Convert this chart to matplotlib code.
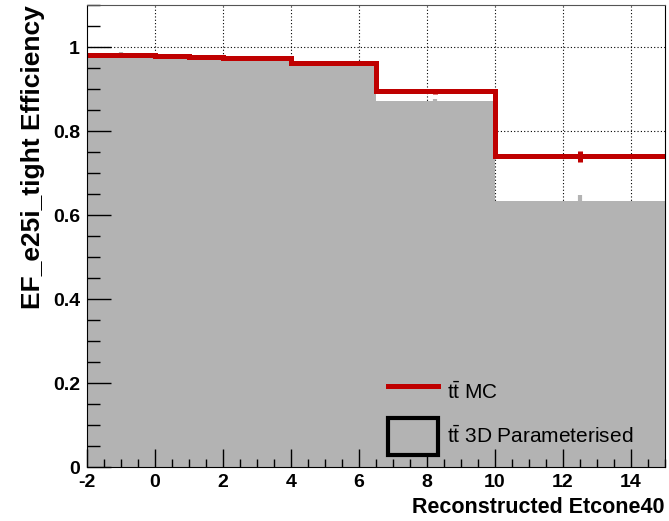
import matplotlib.pyplot as plt
import numpy as np
from matplotlib.lines import Line2D
from matplotlib.patches import Patch
from matplotlib.ticker import MultipleLocator

plt.rcParams['font.family'] = ['Liberation Sans', 'DejaVu Sans']
plt.rcParams['mathtext.fontset'] = 'custom'
plt.rcParams['mathtext.rm'] = 'Liberation Sans'
plt.rcParams['mathtext.it'] = 'Liberation Sans'
plt.rcParams['axes.unicode_minus'] = False

# bin edges in Etcone40
edges = [-2, 0, 1, 2, 4, 6.5, 10, 15]
# ttbar MC efficiency
mc_eff = [0.983, 0.979, 0.977, 0.974, 0.963, 0.896, 0.741]
mc_err = [0.004, 0.004, 0.004, 0.003, 0.003, 0.006, 0.013]
# 3D parameterised efficiency
par_eff = [0.987, 0.983, 0.980, 0.976, 0.966, 0.872, 0.635]
par_err = [0.002, 0.002, 0.002, 0.002, 0.002, 0.006, 0.014]
xgrid = [0, 2, 4, 6, 8, 10, 12, 14]
ygrid = [0.2, 0.4, 0.6, 0.8, 1.0]

red = '#bf0000'
grey = '#b3b3b3'

fig = plt.figure(figsize=(6.69, 5.21), dpi=100)
ax = fig.add_axes([0.130, 0.1036, 0.864, 0.886])

centres = 0.5 * (np.array(edges[:-1]) + np.array(edges[1:]))

#dotted grid, sits under the histogram fill
for gx in xgrid:
    ax.axvline(gx, color='black', linestyle=(0, (1, 2)), linewidth=0.8, zorder=0.5)
for gy in ygrid:
    ax.axhline(gy, color='black', linestyle=(0, (1, 2)), linewidth=0.8, zorder=0.5)

ax.stairs(par_eff, edges, fill=True, color=grey, zorder=1)
ax.errorbar(centres, par_eff, yerr=par_err, fmt='none', ecolor=grey, elinewidth=3, zorder=1)

ax.stairs(mc_eff, edges, baseline=None, color=red, linewidth=3.6, zorder=3)
ax.errorbar(centres, mc_eff, yerr=mc_err, fmt='none', ecolor=red, elinewidth=3.6, zorder=3)

ax.set_xlim(-2, 15)
ax.set_ylim(0, 1.1)
ax.xaxis.set_major_locator(MultipleLocator(2))
ax.xaxis.set_minor_locator(MultipleLocator(0.5))
ax.yaxis.set_major_locator(MultipleLocator(0.2))
ax.yaxis.set_minor_locator(MultipleLocator(0.05))
ax.yaxis.set_major_formatter(plt.FuncFormatter(lambda v, p: '%g' % round(v, 2)))
ax.tick_params(which='both', direction='in', top=False, right=False, labelsize=14)
ax.tick_params(which='major', axis='x', length=13, width=1, pad=5)
ax.tick_params(which='minor', axis='x', length=6, width=1)
ax.tick_params(which='major', axis='y', length=17, width=1, pad=5)
ax.tick_params(which='minor', axis='y', length=9, width=1)
for lab in ax.get_xticklabels() + ax.get_yticklabels():
    lab.set_fontweight('bold')
for sp in ax.spines.values():
    sp.set_zorder(4)
ax.spines['top'].set_color('#555555')

ax.set_xlabel('Reconstructed Etcone40', fontsize=15.5, fontweight='bold', loc='right', labelpad=4)
ax.set_ylabel('EF_e25i_tight Efficiency', fontsize=19, fontweight='bold', loc='top', labelpad=6)

handles = [Line2D([], [], color=red, linewidth=3.6),
           Patch(facecolor=grey, edgecolor='black', linewidth=3)]
labels = [r'$\mathrm{t\bar{t}}$ MC', r'$\mathrm{t\bar{t}}$ 3D Parameterised']
ax.legend(handles, labels, loc='lower left', bbox_to_anchor=(0.488, -0.015), frameon=False,
          fontsize=15, handlelength=2.4, handleheight=2.4, labelspacing=0.3, handletextpad=0.45)

fig.savefig('out.png', dpi=100)
